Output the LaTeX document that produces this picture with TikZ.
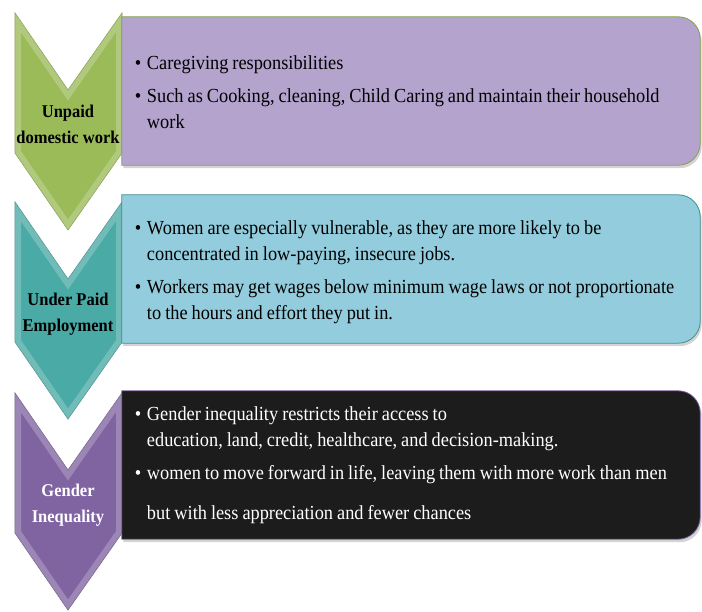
\documentclass[tikz,border=0pt]{standalone}
\usepackage{fontspec}
\setmainfont{Liberation Serif}[FakeStretch=0.92]
\usetikzlibrary{backgrounds,shadows}

\definecolor{leaf}{HTML}{9BBB59}
\definecolor{lilac}{HTML}{B4A3CD}
\definecolor{sea}{HTML}{4AAAA5}
\definecolor{sky}{HTML}{93CDDD}
\definecolor{plum}{HTML}{8064A2}
\definecolor{ink}{HTML}{1C1C1C}

% one bullet point with a hanging indent and tight word spaces
\newcommand{\bpoint}[1]{\par\spaceskip=4bp\relax\hyphenpenalty=10000
    \hangindent=12bp\hangafter=1\noindent\makebox[12bp][l]{\textbullet}#1\par}
% empty room under the last line, to lift the text a little
\newcommand{\lift}[1]{\par\vskip#1\nointerlineskip\hbox{}}
% outline of a chevron whose top edge is at #1
\newcommand{\chevronat}[1]{(15,#1) -- (68,#1+77) -- (122,#1) -- (122,#1+140)
    -- (68,#1+217) -- (15,#1+140) -- cycle}

\begin{document}
\begin{tikzpicture}[
        x=1bp, y=-1bp,
        chevron/.style={
            draw=#1!80!black,
            line width=0.6bp,
            fill=#1
        },
        bevel/.style={
            draw=white,
            opacity=0.22,
            line width=12bp
        },
        stage/.style={
            align=center,
            inner sep=0pt,
            font=\fontsize{18}{26}\selectfont\bfseries
        },
        box/.style={
            rectangle,
            minimum width=578bp,
            minimum height=148bp,
            text width=552bp,
            inner xsep=13bp,
            align=left,
            font=\fontsize{20}{26}\selectfont
        },
        panel/.style={
            line width=0.8bp,
            drop shadow={opacity=0.35, shadow xshift=1.5bp, shadow yshift=-3bp}
        }
    ]
    \useasboundingbox (0,0) rectangle (702,612);

    % Chevron labels
    \node (unpaid) [stage] at (68,124) {Unpaid\\domestic work};

    \node (underpaid) [stage] at (68,314) {Under Paid\\Employment};

    \node (gender) [stage, text=white] at (68,505) {Gender\\Inequality};

    % Text boxes
    \node (caregiving) [box] at (411,91) {%
        \bpoint{Caregiving responsibilities}\vspace{7bp}
        \bpoint{Such as Cooking, cleaning, Child Caring and maintain their household\newline work}\lift{10bp}};

    \node (wages) [box] at (411,269) {%
        \bpoint{Women are especially vulnerable, as they are more likely to be\newline concentrated in low-paying, insecure jobs.}\vspace{7bp}
        \bpoint{Workers may get wages below minimum wage laws or not proportionate\newline to the hours and effort they put in.}\lift{6bp}};

    \node (access) [box, text=white] at (411,465) {%
        \bpoint{Gender inequality restricts their access to\newline education, land, credit, healthcare, and decision-making.}\vspace{7bp}
        \bpoint{women to move forward in life, leaving them with more work than men\vspace{14bp}\newline but with less appreciation and fewer chances}\lift{12bp}};

    \begin{scope}[on background layer]
        % Chevrons
        \path[chevron=leaf] \chevronat{13};
        \path[chevron=sea] \chevronat{202};
        \path[chevron=plum] \chevronat{393};

        % light inner edge on each chevron
        \begin{scope}
            \clip \chevronat{13};
            \path[bevel] \chevronat{13};
        \end{scope}
        \begin{scope}
            \clip \chevronat{202};
            \path[bevel] \chevronat{202};
        \end{scope}
        \begin{scope}
            \clip \chevronat{393};
            \path[bevel] \chevronat{393};
        \end{scope}

        % Boxes, square on the left and rounded on the right
        \path[panel, fill=lilac, draw=leaf!85!black] (caregiving.south west)
            -- (caregiving.north west) -- (caregiving.north) [rounded corners=22bp]
            -- (caregiving.north east) -- (caregiving.south east)
            -- (caregiving.south) [sharp corners] -- cycle;
        \path[panel, fill=sky, draw=sea!85!black] (wages.south west)
            -- (wages.north west) -- (wages.north) [rounded corners=22bp]
            -- (wages.north east) -- (wages.south east)
            -- (wages.south) [sharp corners] -- cycle;
        \path[panel, fill=ink, draw=plum] (access.south west)
            -- (access.north west) -- (access.north) [rounded corners=22bp]
            -- (access.north east) -- (access.south east)
            -- (access.south) [sharp corners] -- cycle;
    \end{scope}

    \end{tikzpicture}
\end{document}
